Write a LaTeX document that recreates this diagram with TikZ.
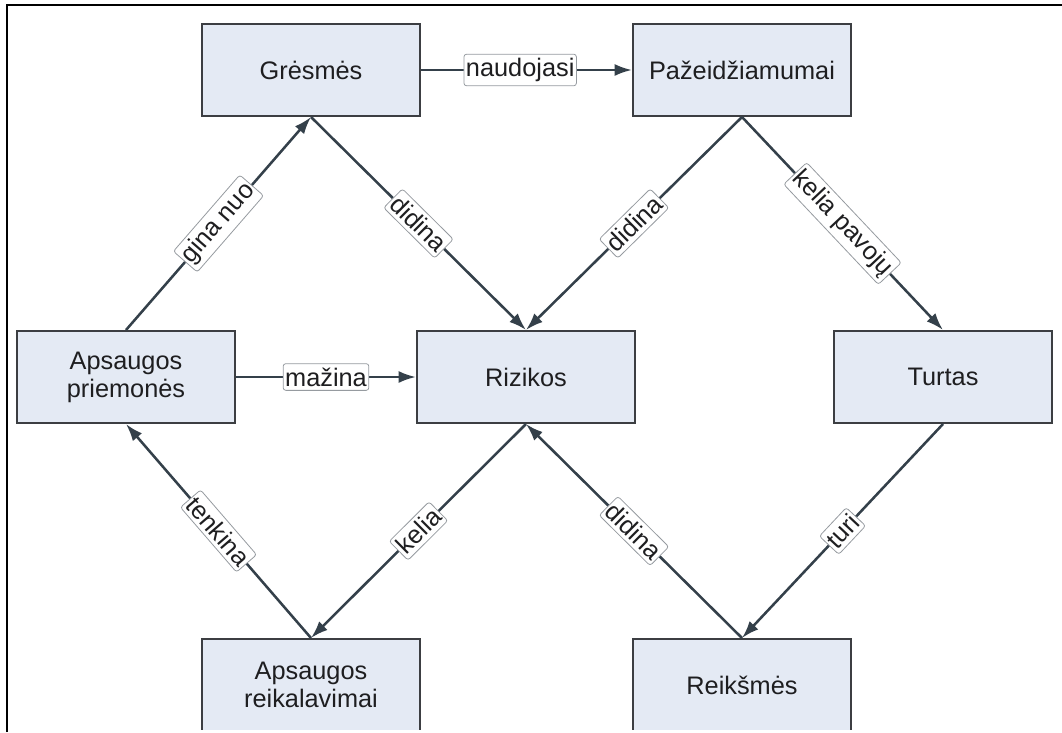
\documentclass[tikz,border=0pt]{standalone}
\usepackage{fontspec}
\setmainfont{Liberation Sans}
\usetikzlibrary{arrows.meta,shadows}
\definecolor{boxfill}{RGB}{228,234,244}
\definecolor{boxline}{RGB}{60,62,66}
\definecolor{wire}{RGB}{52,64,74}
\definecolor{tagline}{RGB}{150,155,160}
\definecolor{ink}{RGB}{30,30,32}
\begin{document}
\begin{tikzpicture}[x=0.75pt,y=-0.75pt,
  entity/.style={draw=boxline, line width=1.5pt, fill=boxfill,
    minimum width=163.5pt, minimum height=69pt, align=center,
    font=\fontsize{19}{21}\selectfont, text=ink,
    drop shadow={shadow xshift=1pt, shadow yshift=-1pt, opacity=0.25}},
  rel/.style={draw=wire, line width=1.9pt, -{Latex[length=13pt,width=9pt]}},
  tag/.style={sloped, pos=0.5, draw=tagline, line width=0.6pt,
    rounded corners=2pt, fill=white, inner xsep=1.5pt, inner ysep=3pt,
    text=ink, font=\fontsize{19}{21}\selectfont}]
  \useasboundingbox (0,0) rectangle (1062,732);
  \begin{scope}
    \clip (0,0) rectangle (1062,729.5);
    % concepts
    \node[entity] (gr) at (311,70)  {Grėsmės};
    \node[entity] (pa) at (742,70)  {Pažeidžiamumai};
    \node[entity] (ap) at (126,377) {Apsaugos\\priemonės};
    \node[entity] (ri) at (526,377) {Rizikos};
    \node[entity] (tu) at (943,377) {Turtas};
    \node[entity] (ar) at (311,685) {Apsaugos\\reikalavimai};
    \node[entity] (re) at (742,685) {Reikšmės};
    % relations
    \draw[rel] (gr) -- node[tag,pos=0.47] {naudojasi} (pa);
    \draw[rel] (ap.north) -- node[tag] {gina nuo} (gr.south);
    \draw[rel] (gr.south) -- node[tag] {didina} (ri.north);
    \draw[rel] (pa.south) -- node[tag] {didina} (ri.north);
    \draw[rel] (pa.south) -- node[tag] {kelia pavojų} (tu.north);
    \draw[rel] (ap) -- node[tag] {mažina} (ri);
    \draw[rel] (ri.south) -- node[tag] {kelia} (ar.north);
    \draw[rel] (re.north) -- node[tag] {didina} (ri.south);
    \draw[rel] (ar.north) -- node[tag] {tenkina} (ap.south);
    \draw[rel] (tu.south) -- node[tag] {turi} (re.north);
  \end{scope}
  % page frame
  \draw[line width=1.6pt] (7,732) -- (7,5) -- (1062,5);
\end{tikzpicture}
\end{document}
